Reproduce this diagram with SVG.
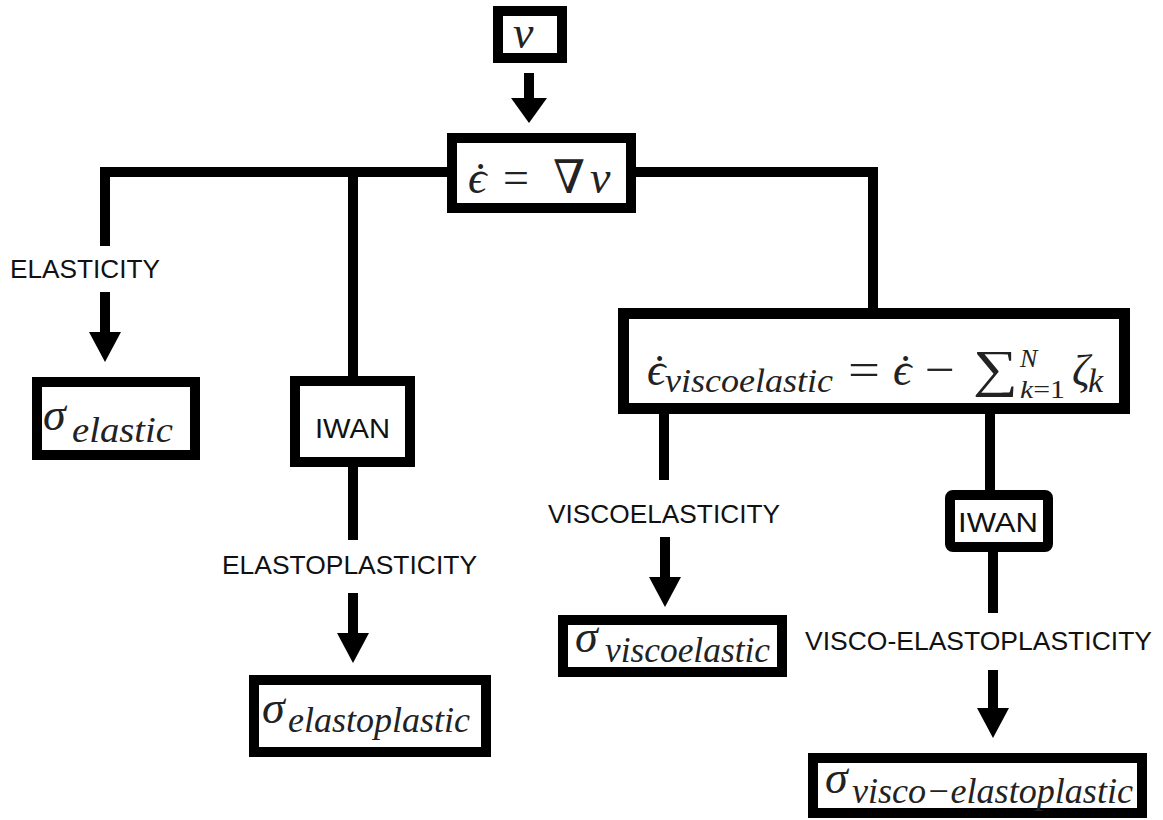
<svg xmlns="http://www.w3.org/2000/svg" width="1163" height="820" viewBox="0 0 1163 820">
<style>
.box{fill:#fff;stroke:#000;stroke-width:10}
.ln{fill:none;stroke:#000;stroke-width:10;stroke-linejoin:miter;stroke-linecap:butt}
.lbl{font-family:"Liberation Sans",Arial,sans-serif;font-size:26px;fill:#111}
.m{font-family:"Liberation Serif","DejaVu Serif",serif;fill:#222}
.it{font-style:italic}
</style>
<defs>
<marker id="ah" markerUnits="userSpaceOnUse" markerWidth="30" markerHeight="32" viewBox="0 0 30 32" refX="1" refY="16" orient="auto">
<path d="M0,0 L30,16 L0,32 Z" fill="#000"/>
</marker>
<marker id="ah2" markerUnits="userSpaceOnUse" markerWidth="25" markerHeight="36" viewBox="0 0 25 36" refX="1" refY="18" orient="auto">
<path d="M0,0 L25,18 L0,36 Z" fill="#000"/>
</marker>
</defs>
<rect width="1163" height="820" fill="#fff"/>
<g id="connectors">
<path class="ln" d="M529,73 V99" marker-end="url(#ah2)"/>
<path class="ln" d="M105,246 V172 H447"/>
<path class="ln" d="M353,172 V376"/>
<path class="ln" d="M636,172 H873 V308"/>
<path class="ln" d="M105,292 V333" marker-end="url(#ah)"/>
<path class="ln" d="M353,467 V540"/>
<path class="ln" d="M353,593 V634" marker-end="url(#ah)"/>
<path class="ln" d="M664,414 V480"/>
<path class="ln" d="M665,537 V578" marker-end="url(#ah)"/>
<path class="ln" d="M990,414 V490"/>
<path class="ln" d="M993,552 V613"/>
<path class="ln" d="M993,670 V709" marker-end="url(#ah)"/>
</g>
<g id="label-elasticity"><text class="lbl" x="10" y="278" textLength="150" lengthAdjust="spacingAndGlyphs">ELASTICITY</text></g>
<g id="label-elastoplasticity"><text class="lbl" x="222" y="574" textLength="255" lengthAdjust="spacingAndGlyphs">ELASTOPLASTICITY</text></g>
<g id="label-viscoelasticity"><text class="lbl" x="548" y="523" textLength="232" lengthAdjust="spacingAndGlyphs">VISCOELASTICITY</text></g>
<g id="label-visco-elastoplasticity"><text class="lbl" x="805" y="650" textLength="347" lengthAdjust="spacingAndGlyphs">VISCO-ELASTOPLASTICITY</text></g>
<g id="node-v">
<rect class="box" x="498" y="11" width="64" height="47"/>
<text class="m it" x="513" y="48" font-size="46">v</text>
</g>
<g id="node-strain-rate">
<rect class="box" x="452" y="138" width="179" height="70"/>
<text class="m it" font-size="46"><tspan x="468" y="193">ϵ</tspan><tspan x="470" y="195">˙</tspan></text>
<text class="m" y="193" font-size="46"><tspan x="503">=</tspan><tspan x="553">∇</tspan><tspan class="it" x="590">v</tspan></text>
</g>
<g id="node-sigma-elastic">
<rect class="box" x="37" y="382" width="158" height="73"/>
<text class="m it" x="43" y="430" font-size="46">σ</text>
<text class="m it" x="72" y="442" font-size="36" textLength="101" lengthAdjust="spacingAndGlyphs">elastic</text>
</g>
<g id="node-iwan-1">
<rect class="box" x="295" y="381" width="115" height="81"/>
<text class="lbl" x="315" y="438" textLength="75" lengthAdjust="spacingAndGlyphs" style="font-size:28px">IWAN</text>
</g>
<g id="node-sigma-elastoplastic">
<rect class="box" x="254" y="680" width="232" height="72"/>
<text class="m it" x="262" y="723" font-size="46">σ</text>
<text class="m it" x="288" y="732" font-size="36" textLength="182" lengthAdjust="spacingAndGlyphs">elastoplastic</text>
</g>
<g id="node-viscoelastic-strain">
<rect class="box" x="623.5" y="313.5" width="501" height="95" style="stroke-width:11"/>
<text class="m it" font-size="46"><tspan x="647" y="385">ϵ</tspan><tspan x="649" y="387">˙</tspan></text>
<text class="m it" x="665" y="392" font-size="34" textLength="168" lengthAdjust="spacingAndGlyphs">viscoelastic</text>
<text class="m" x="848" y="385" font-size="46" textLength="32" lengthAdjust="spacingAndGlyphs">=</text>
<text class="m it" font-size="46"><tspan x="893" y="385">ϵ</tspan><tspan x="895" y="387">˙</tspan></text>
<text class="m" x="925" y="385" font-size="46" textLength="30" lengthAdjust="spacingAndGlyphs">−</text>
<text class="m" x="973" y="386" font-size="52" textLength="45" lengthAdjust="spacingAndGlyphs">∑</text>
<text class="m it" x="1020" y="367" font-size="26">N</text>
<text class="m" x="1020" y="398" font-size="26" textLength="45" lengthAdjust="spacingAndGlyphs"><tspan class="it">k</tspan>=1</text>
<text class="m it" x="1072" y="385" font-size="44">ζ</text>
<text class="m it" x="1088" y="392" font-size="34">k</text>
</g>
<g id="node-sigma-viscoelastic">
<rect class="box" x="563" y="620" width="219" height="52"/>
<text class="m it" x="575" y="652" font-size="46">σ</text>
<text class="m it" x="605" y="662" font-size="36" textLength="165" lengthAdjust="spacingAndGlyphs">viscoelastic</text>
</g>
<g id="node-iwan-2">
<rect class="box" x="950" y="495" width="98" height="52" rx="3"/>
<text class="lbl" x="958" y="532" textLength="80" lengthAdjust="spacingAndGlyphs" style="font-size:28px">IWAN</text>
</g>
<g id="node-sigma-visco-elastoplastic">
<rect class="box" x="813" y="758" width="329" height="55"/>
<text class="m it" x="825" y="793" font-size="46">σ</text>
<text class="m it" x="852" y="803" font-size="36" textLength="281" lengthAdjust="spacingAndGlyphs">visco−elastoplastic</text>
</g>
</svg>
